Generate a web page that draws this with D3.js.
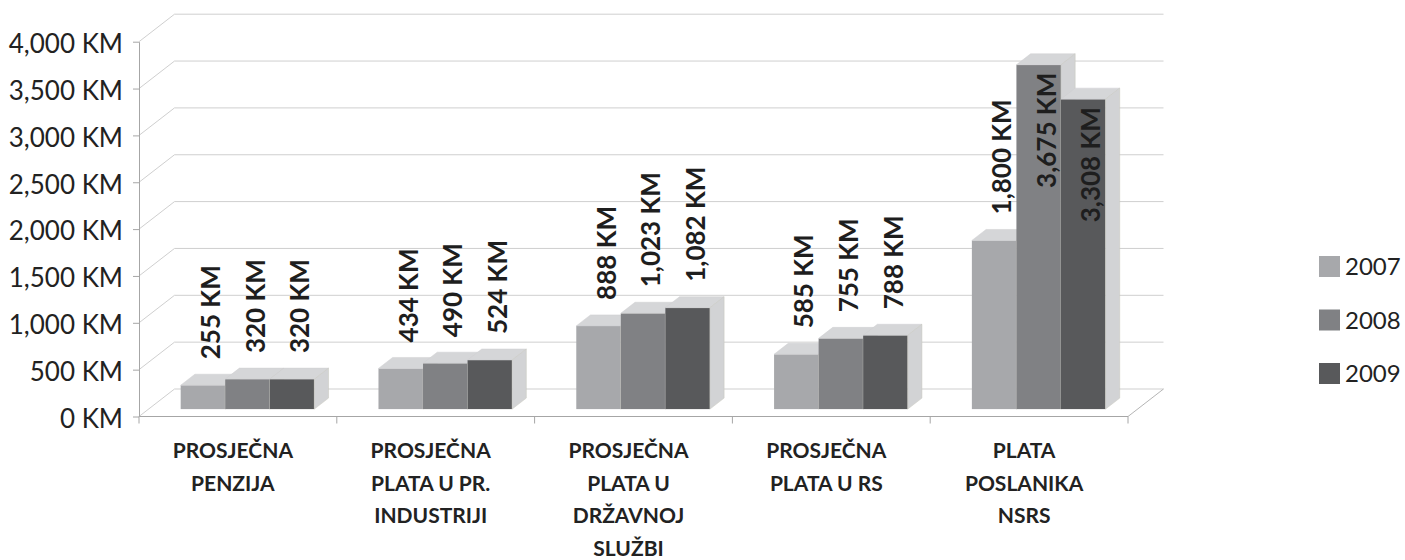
<!DOCTYPE html>
<html>
<head>
<meta charset="utf-8">
<script src="https://cdn.jsdelivr.net/npm/d3@7"></script>
<style>
  body { margin: 0; background: #fff; }
  text { font-family: Lato, "Open Sans", sans-serif; }
</style>
</head>
<body>
<div id="chart"></div>
<script>
// data
var categories = [
  ["PROSJEČNA", "PENZIJA"],
  ["PROSJEČNA", "PLATA U PR.", "INDUSTRIJI"],
  ["PROSJEČNA", "PLATA U", "DRŽAVNOJ", "SLUŽBI"],
  ["PROSJEČNA", "PLATA U RS"],
  ["PLATA", "POSLANIKA", "NSRS"]
];
var years = ["2007", "2008", "2009"];
var values2007 = [255, 434, 888, 585, 1800];
var values2008 = [320, 490, 1023, 755, 3675];
var values2009 = [320, 524, 1082, 788, 3308];
var yTickValues = [0, 500, 1000, 1500, 2000, 2500, 3000, 3500, 4000];

var series = [values2007, values2008, values2009];
var colors = ["#a7a8ab", "#808184", "#58595b"];

var svgWidth = 1405;
var svgHeight = 560;

// front plane of the plot box
var left = 139, right = 1128, floorY = 416.5, topY = 41.7;
// depth of the plot box (oblique)
var depthX = 35.5, depthY = -27.5;
// bars sit a bit back inside the box
var barShiftX = 9.6, barShiftY = -7.4;
var barDepthX = 14.2, barDepthY = -11;

var svg = d3.select("#chart")
  .append("svg")
  .attr("width", svgWidth)
  .attr("height", svgHeight);

var yScale = d3.scaleLinear()
  .domain([0, 4000])
  .range([floorY, topY]);

var xScale = d3.scaleBand()
  .domain(d3.range(categories.length))
  .range([left, right]);

var xInner = d3.scaleBand()
  .domain(years)
  .range([0, xScale.bandwidth()])
  .paddingInner(0)
  .paddingOuter(0.72);

// back wall gridlines and left wall diagonals
var grid = svg.append("g");
yTickValues.forEach(function(v) {
  var y = yScale(v);
  grid.append("line")
    .attr("x1", left + depthX).attr("y1", y + depthY)
    .attr("x2", right + depthX).attr("y2", y + depthY)
    .attr("stroke", "#cfcfcf").attr("stroke-width", 1);
  grid.append("line")
    .attr("x1", left).attr("y1", y)
    .attr("x2", left + depthX).attr("y2", y + depthY)
    .attr("stroke", "#cfcfcf").attr("stroke-width", 1);
});

// floor right edge
grid.append("line")
  .attr("x1", right).attr("y1", floorY)
  .attr("x2", right + depthX).attr("y2", floorY + depthY)
  .attr("stroke", "#b5b5b5");

// y axis
var yAxis = svg.append("g")
  .attr("transform", `translate(${left}, 0)`)
  .call(d3.axisLeft(yScale)
    .tickValues(yTickValues)
    .tickSize(6)
    .tickSizeOuter(0)
    .tickPadding(10)
    .tickFormat(d => d3.format(",")(d) + " KM"));

yAxis.select(".domain").attr("stroke", "#a6a6a6");
yAxis.selectAll(".tick line").attr("stroke", "#a6a6a6");
yAxis.selectAll(".tick text")
  .attr("font-family", "Lato, sans-serif")
  .attr("font-size", 26)
  .attr("fill", "#222")
  .attr("y", 2.5);

// x axis line and tick marks at category boundaries
svg.append("line")
  .attr("x1", left).attr("y1", floorY)
  .attr("x2", right).attr("y2", floorY)
  .attr("stroke", "#a6a6a6");

var bounds = xScale.domain().map(d => xScale(d)).concat([right]);
svg.selectAll(".xtick")
  .data(bounds)
  .enter()
  .append("line")
  .attr("x1", d => d).attr("x2", d => d)
  .attr("y1", floorY).attr("y2", floorY + 7)
  .attr("stroke", "#a6a6a6");

// bars, painted left to right
var barsGroup = svg.append("g");
var y0 = floorY + barShiftY;

categories.forEach(function(c, i) {
  years.forEach(function(yr, j) {
    var v = series[j][i];
    var x0 = xScale(i) + xInner(yr) + barShiftX;
    var x1 = x0 + xInner.bandwidth();
    var yt = yScale(v) + barShiftY;

    // front
    barsGroup.append("rect")
      .attr("x", x0).attr("y", yt)
      .attr("width", x1 - x0).attr("height", y0 - yt)
      .attr("fill", colors[j]);
    // top
    barsGroup.append("polygon")
      .attr("points", [[x0, yt], [x0 + barDepthX, yt + barDepthY], [x1 + barDepthX, yt + barDepthY], [x1, yt]].join(" "))
      .attr("fill", "#d5d6d8")
      .attr("stroke", "#cfcfd1").attr("stroke-width", 0.5);
    // side
    barsGroup.append("polygon")
      .attr("points", [[x1, yt], [x1 + barDepthX, yt + barDepthY], [x1 + barDepthX, y0 + barDepthY], [x1, y0]].join(" "))
      .attr("fill", "#d2d3d5")
      .attr("stroke", "#c6c6bc").attr("stroke-width", 0.5);
  });
});

// value labels
var labelsGroup = svg.append("g");
categories.forEach(function(c, i) {
  years.forEach(function(yr, j) {
    var v = series[j][i];
    var x0 = xScale(i) + xInner(yr) + barShiftX;
    var cx = x0 + xInner.bandwidth() / 2 + barDepthX / 2;
    var yt = yScale(v) + barShiftY;

    var label = labelsGroup.append("text")
      .attr("font-size", 26)
      .attr("font-weight", "bold")
      .attr("fill", "#1e1e1e")
      .attr("dominant-baseline", "central")
      .text(d3.format(",")(v) + " KM");

    var len = label.node().getComputedTextLength();
    var yStart = yt - 26;
    if (yStart - len < 14) {
      // does not fit above, put it inside the bar top
      label.attr("text-anchor", "end")
        .attr("transform", `translate(${cx}, ${yt + 8}) rotate(-90)`);
    } else {
      label.attr("text-anchor", "start")
        .attr("transform", `translate(${cx}, ${yStart}) rotate(-90)`);
    }
  });
});

// category labels
var catLabels = svg.append("g");
categories.forEach(function(lines, i) {
  var cx = xScale(i) + xScale.bandwidth() / 2 - 5;
  var t = catLabels.append("text")
    .attr("x", cx)
    .attr("y", 458)
    .attr("text-anchor", "middle")
    .attr("font-size", 21)
    .attr("font-weight", "bold")
    .attr("fill", "#222");
  lines.forEach(function(l, k) {
    t.append("tspan")
      .attr("x", cx)
      .attr("dy", k === 0 ? 0 : 32.5)
      .text(l);
  });
});

// legend
var legend = svg.append("g")
  .attr("transform", "translate(1319, 256)");

years.forEach(function(yr, j) {
  legend.append("rect")
    .attr("x", 0).attr("y", j * 53.5)
    .attr("width", 21).attr("height", 21)
    .attr("fill", colors[j]);
  legend.append("text")
    .attr("x", 26).attr("y", j * 53.5 + 19)
    .attr("font-size", 24)
    .attr("fill", "#222")
    .text(yr);
});
</script>
</body>
</html>
